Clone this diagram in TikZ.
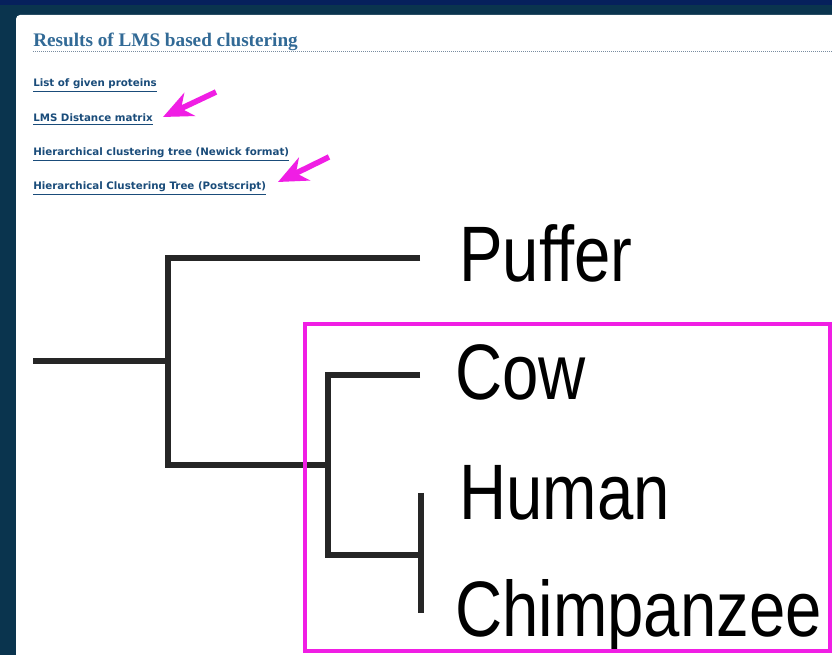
\documentclass[tikz,border=0pt]{standalone}
\usepackage{fontspec}
\usepackage{xcolor}
\usetikzlibrary{arrows.meta}
\newfontfamily\titlefont{Liberation Serif}
\newfontfamily\linkfont{DejaVu Sans}
\newfontfamily\leaffont[FakeStretch=0.83]{Liberation Sans}
\definecolor{framenavy}{RGB}{6,32,92}
\definecolor{frameteal}{RGB}{10,52,78}
\definecolor{titleblue}{RGB}{50,106,150}
\definecolor{linkblue}{RGB}{26,76,122}
\definecolor{rulegrey}{RGB}{120,140,160}
\definecolor{hilite}{RGB}{240,30,228}

\tikzset{
  branch/.style={line width=4.4pt, color=black!85},
  link/.style={anchor=base west, inner sep=0pt, text=linkblue,
    font=\linkfont\bfseries\fontsize{7.7}{9}\selectfont},
  leaf/.style={anchor=base west, inner sep=0pt,
    font=\leaffont\fontsize{59}{62}\selectfont},
  pointer/.style={hilite, line width=4.2pt,
    -{Stealth[length=22pt,width=19pt,inset=7pt]}}
}

\begin{document}
\begin{tikzpicture}[x=0.75pt,y=0.75pt,yscale=-1,xscale=1]
\useasboundingbox (0,0) rectangle (832,655);

%Shape: page frame
\fill [frameteal] (0,0) rectangle (832,655);
\fill [framenavy] (0,0) rectangle (832,5);
\fill [white, rounded corners=3pt] (16,15) -- (840,15) -- (840,660) -- (16,660) -- cycle;

% Text Node: heading
\node [anchor=base west, inner sep=0pt, text=titleblue,
  font=\titlefont\bfseries\fontsize{14.4}{16}\selectfont] (head) at (33,47) {Results of LMS based clustering};
\draw [rulegrey, line width=0.6pt, dash pattern={on 0.6pt off 0.9pt}] (33,51.5) -- (832,51.5);

% Text Node: links
\node [link] (prot) at (33,87) {\underline{List of given proteins}};
\node [link] (dist) at (33,122) {\underline{LMS Distance matrix}};
\node [link] (newick) at (33,156) {\underline{Hierarchical clustering tree (Newick format)}};
\node [link] (post) at (33,190) {\underline{Hierarchical Clustering Tree (Postscript)}};

% Pointers
\coordinate (ptrA) at (216,92);
\coordinate (ptrB) at (329,157);
\draw [pointer] (ptrA) -- (163,117);
\draw [pointer] (ptrB) -- (278,182);

% Tree
\coordinate (root) at (33,361);
\coordinate (n1) at (168,361);
\coordinate (n2) at (328,465);
\coordinate (n3) at (421,555);
\coordinate (tipP) at (420,258);
\coordinate (tipC) at (420,375);
\coordinate (tipH) at (421,493);
\coordinate (tipZ) at (421,613);

\draw [branch] (root) -- (n1);
\draw [branch] (tipP) -| (n1) |- (n2);
\draw [branch] (tipC) -| (n2) |- (n3);
\draw [branch] (tipH) -- (tipZ);

% Text Node: leaves
\node [leaf] (puffer) at (459,282) {Puffer};
\node [leaf] (cow) at (455,400) {Cow};
\node [leaf] (human) at (459,520) {Human};
\node [leaf] (chimp) at (455,636) {Chimpanzee};

%Shape: highlight box
\draw [hilite, line width=2.5pt] (305,324) rectangle (830,651);
\end{tikzpicture}
\end{document}
